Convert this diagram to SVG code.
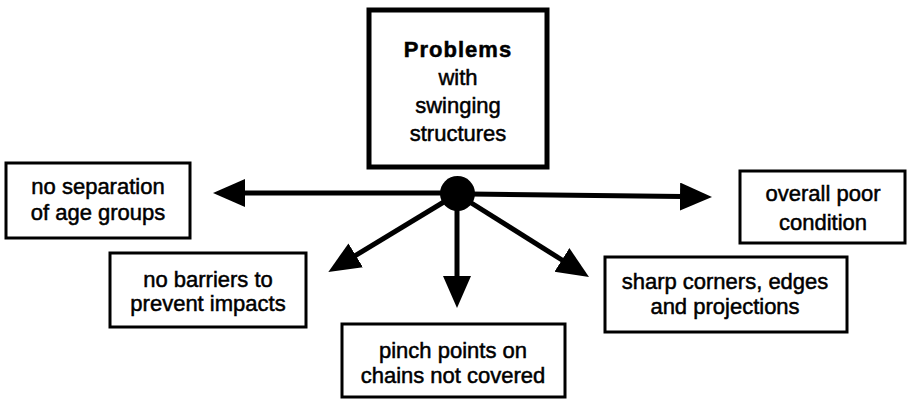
<svg xmlns="http://www.w3.org/2000/svg" width="908" height="399" viewBox="0 0 908 399">
<defs>
<style>
.box{fill:#fff;stroke:#000;stroke-width:3}
.title{fill:#fff;stroke:#000;stroke-width:5}
.t{font-family:"Liberation Sans",Arial,sans-serif;font-size:22px;fill:#000;stroke:#000;stroke-width:0.5;text-anchor:middle}
.b{font-weight:bold;letter-spacing:1px}
.c{stroke:#000;stroke-width:5;fill:none}
</style>
<marker id="ah" markerUnits="userSpaceOnUse" markerWidth="34" markerHeight="30" refX="2" refY="14" orient="auto">
<path d="M0,0 L32,14 L0,28 z" fill="#000"/>
</marker>
</defs>
<g id="connectors">
<line class="c" x1="445" y1="193" x2="243" y2="193" marker-end="url(#ah)"/>
<line class="c" x1="470" y1="194" x2="682" y2="196.6" marker-end="url(#ah)"/>
<line class="c" x1="457" y1="194" x2="354" y2="256.4" marker-end="url(#ah)"/>
<line class="c" x1="457" y1="194" x2="457" y2="278" marker-end="url(#ah)"/>
<line class="c" x1="457" y1="194" x2="563.6" y2="261" marker-end="url(#ah)"/>
<circle cx="457.5" cy="193.5" r="17.5" fill="#000"/>
</g>
<g id="problems">
<rect class="title" x="369" y="10" width="178" height="157"/>
<text class="t b" x="458" y="57">Problems</text>
<text class="t" x="458" y="85">with</text>
<text class="t" x="458" y="113">swinging</text>
<text class="t" x="458" y="141">structures</text>
</g>
<g id="age-groups">
<rect class="box" x="6" y="163" width="184" height="75"/>
<text class="t" x="98" y="194">no separation</text>
<text class="t" x="98" y="220">of age groups</text>
</g>
<g id="barriers">
<rect class="box" x="110" y="253" width="196" height="74"/>
<text class="t" x="208" y="287">no barriers to</text>
<text class="t" x="208" y="311">prevent impacts</text>
</g>
<g id="pinch">
<rect class="box" x="342" y="324" width="223" height="73"/>
<text class="t" x="453" y="358">pinch points on</text>
<text class="t" x="453" y="383">chains not covered</text>
</g>
<g id="sharp">
<rect class="box" x="605" y="257" width="242" height="75"/>
<text class="t" x="725" y="289">sharp corners, edges</text>
<text class="t" x="725" y="314">and projections</text>
</g>
<g id="overall">
<rect class="box" x="740" y="171" width="165" height="72"/>
<text class="t" x="823" y="201">overall poor</text>
<text class="t" x="823" y="230">condition</text>
</g>
</svg>
